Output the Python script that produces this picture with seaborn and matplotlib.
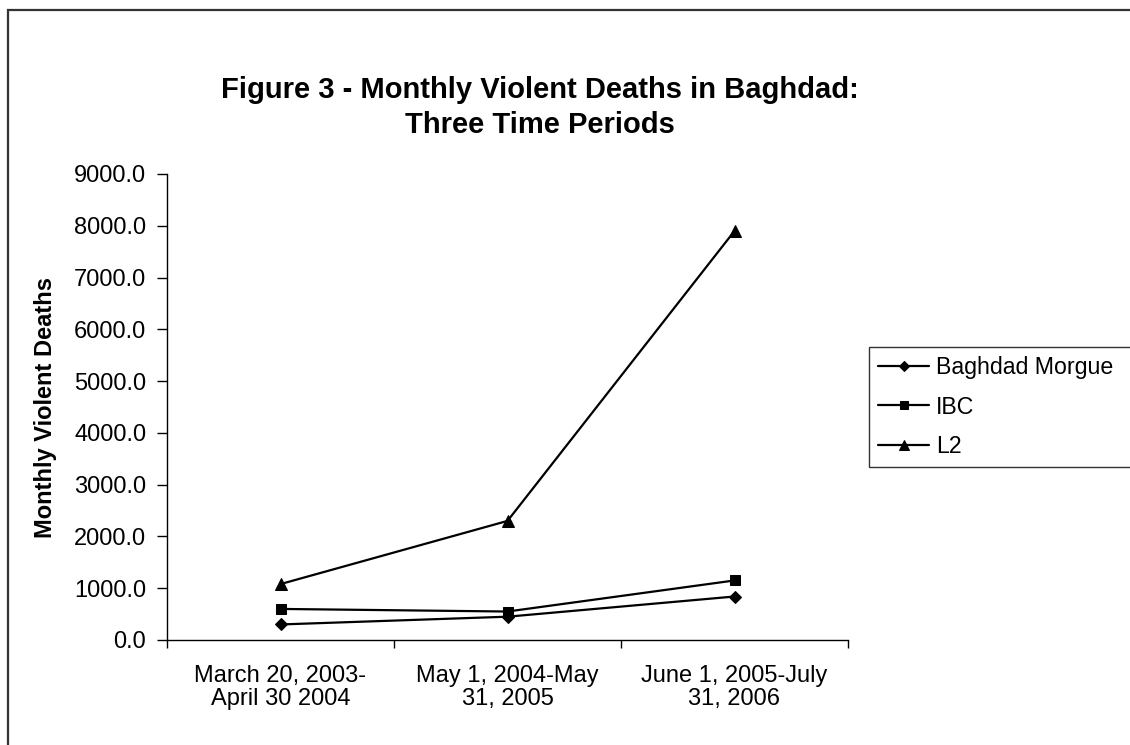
import matplotlib
matplotlib.use("Agg")
import matplotlib.pyplot as plt
import seaborn as sns
import pandas as pd
from matplotlib.patches import Rectangle
from matplotlib.ticker import FormatStrFormatter, FixedLocator

periods = ["March 20, 2003-\nApril 30 2004", "May 1, 2004-May\n31, 2005", "June 1, 2005-July\n31, 2006"]
series_names = ["Baghdad Morgue", "IBC", "L2"]
morgue = [300, 450, 840]
ibc = [600, 550, 1150]
l2 = [1080, 2300, 7900]
yticks = [0, 1000, 2000, 3000, 4000, 5000, 6000, 7000, 8000, 9000]

sns.set_theme(style="white")
plt.rcParams['font.family'] = ['Liberation Sans', 'DejaVu Sans']
plt.rcParams.update({"text.color": "black", "axes.labelcolor": "black",
                     "xtick.color": "black", "ytick.color": "black"})

rows = []
for name, vals in zip(series_names, [morgue, ibc, l2]):
    for i, v in enumerate(vals):
        rows.append({"pos": i, "deaths": v, "series": name})
df = pd.DataFrame(rows)

W, H = 1130, 745
fig = plt.figure(figsize=(W / 100, H / 100), dpi=100)
ax = fig.add_axes([167 / W, 1 - 640 / H, (848 - 167) / W, (640 - 174) / H])

markers = {"Baghdad Morgue": "D", "IBC": "s", "L2": "^"}
sizes = {"Baghdad Morgue": 6, "IBC": 7.5, "L2": 8.5}
for name in series_names:
    sub = df[df.series == name]
    sns.lineplot(data=sub, x="pos", y="deaths", ax=ax, color="black", marker=markers[name],
                 markersize=sizes[name], markeredgecolor="black", markerfacecolor="black",
                 linewidth=1.6, label=name, legend=False, sort=False)

ax.set_xlim(-0.5, 2.5)
ax.set_ylim(0, 9000)
ax.yaxis.set_major_locator(FixedLocator(yticks))
ax.yaxis.set_major_formatter(FormatStrFormatter("%.1f"))
ax.set_xticks(range(len(periods)))
ax.set_xticklabels(periods, fontsize=17, linespacing=1.05)
ax.set_xticks([-0.5, 0.5, 1.5, 2.5], minor=True)
ax.tick_params(axis="x", which="major", length=0, pad=18)
ax.tick_params(axis="x", which="minor", length=6, width=1, color="black", direction="out", bottom=True)
ax.tick_params(axis="y", which="major", length=7, width=1, color="black", direction="out", left=True, pad=8, labelsize=17)
for side in ["top", "right"]:
    ax.spines[side].set_visible(False)
for side in ["left", "bottom"]:
    ax.spines[side].set_color("black")
    ax.spines[side].set_linewidth(1)
ax.set_xlabel("")
ax.set_ylabel("Monthly Violent Deaths", fontsize=17, fontweight="bold")
ax.yaxis.set_label_coords((57 - 167) / (848 - 167), 0.5)

fig.text(0.478, 1 - 90 / H, "Figure 3 - Monthly Violent Deaths in Baghdad:", ha="center", va="center",
         fontsize=21, fontweight="bold")
fig.text(0.478, 1 - 125 / H, "Three Time Periods", ha="center", va="center",
         fontsize=21, fontweight="bold")

handles, labels = ax.get_legend_handles_labels()
leg = fig.legend(handles, labels, loc="upper left",
                 bbox_to_anchor=(869 / W, 1 - 347 / H, 0.35, 0), mode="expand", borderaxespad=0,
                 fontsize=16.7, frameon=True, fancybox=False, edgecolor="black",
                 handlelength=2.2, handletextpad=0.3, labelspacing=0.7, borderpad=0.4,
                 markerscale=0.85)
leg.get_frame().set_linewidth(1)

fig.patches.append(Rectangle((8 / W, -0.05), 1.1, 1 - 10 / H + 0.05, transform=fig.transFigure,
                             fill=False, edgecolor="#333333", linewidth=1.6))

fig.savefig("out.png", dpi=100)
